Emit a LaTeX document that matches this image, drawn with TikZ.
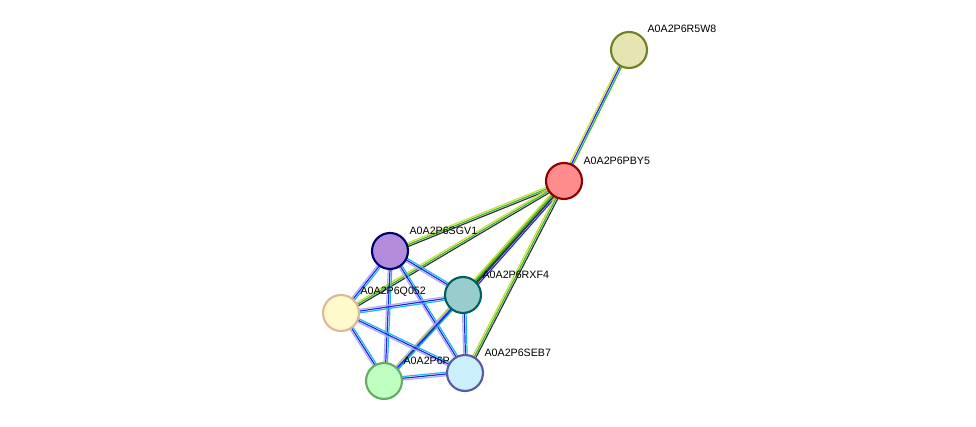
\documentclass[tikz,border=0pt]{standalone}
\usepackage{fontspec}
\setmainfont{Liberation Sans}
\usetikzlibrary{calc}
\definecolor{sgreen}{HTML}{33BB33}
\definecolor{syellow}{HTML}{CCDD33}
\definecolor{sblue}{HTML}{2222EE}
\definecolor{scyan}{HTML}{22BBDD}
\definecolor{sviolet}{HTML}{AAAAFF}
\definecolor{sdark}{HTML}{333333}
% parallel coloured strands between two nodes
\newcommand{\strands}[3]{%
  \foreach \col [count=\k] in {#3} {
    \pgfmathsetmacro{\off}{(\k-1)*1.3-0.65}
    \draw[\col, line width=0.9pt] ($(#1)!\off pt!90:(#2)$) -- ($(#2)!\off pt!-90:(#1)$);
  }}
\begin{document}
\begin{tikzpicture}[x=0.75pt, y=-0.75pt,
    % protein node style
    prot/.style={circle, line width=1.6pt, minimum size=27pt, inner sep=0pt},
    % label style
    lbl/.style={font=\fontsize{8}{9}\selectfont, anchor=south west, inner sep=1pt}
  ]
  \useasboundingbox (0,0) rectangle (976,427);

  % positions
  \coordinate (r5w8) at (629,50);
  \coordinate (pby5) at (564,181);
  \coordinate (sgv1) at (390,251);
  \coordinate (rxf4) at (463,295);
  \coordinate (q052) at (341,313);
  \coordinate (p6p) at (384,381);
  \coordinate (seb7) at (465,373);

  % evidence links to the hub
  \strands{pby5}{r5w8}{sgreen,sblue,syellow}
  \strands{pby5}{sgv1}{syellow,sgreen,sdark}
  \strands{pby5}{q052}{syellow,sgreen,sdark}
  \strands{pby5}{rxf4}{syellow,sgreen,sdark,sblue}
  \strands{pby5}{seb7}{syellow,sgreen,sdark}
  \strands{pby5}{p6p}{syellow,sgreen,sdark}

  % links inside the cluster
  \foreach \a/\b in {sgv1/rxf4, sgv1/q052, sgv1/p6p, sgv1/seb7, rxf4/q052,
                     rxf4/p6p, rxf4/seb7, q052/p6p, q052/seb7, p6p/seb7}
    \strands{\a}{\b}{sviolet,sblue,scyan};

  % labels
  \node[lbl] at (646,34) {A0A2P6R5W8};
  \node[lbl] at (582,166) {A0A2P6PBY5};
  \node[lbl] at (408,236) {A0A2P6SGV1};
  \node[lbl] at (481,280) {A0A2P6RXF4};
  \node[lbl] at (359,298) {A0A2P6Q052};
  \node[lbl] at (402,366) {A0A2P6P};
  \node[lbl] at (483,358) {A0A2P6SEB7};

  % proteins
  \node[prot, fill=white!60!olive!55, draw=olive!70!green!80!black] (nr5w8) at (r5w8) {};
  \node[prot, fill=red!45, draw=red!55!black] (npby5) at (pby5) {};
  \node[prot, fill=blue!35!violet!45, draw=blue!45!black] (nsgv1) at (sgv1) {};
  \node[prot, fill=teal!40, draw=teal!75!black] (nrxf4) at (rxf4) {};
  \node[prot, fill=orange!20!yellow!20, draw=brown!55] (nq052) at (q052) {};
  \node[prot, fill=green!25, draw=green!45!black!60] (np6p) at (p6p) {};
  \node[prot, fill=cyan!20, draw=blue!30!gray] (nseb7) at (seb7) {};
\end{tikzpicture}
\end{document}
